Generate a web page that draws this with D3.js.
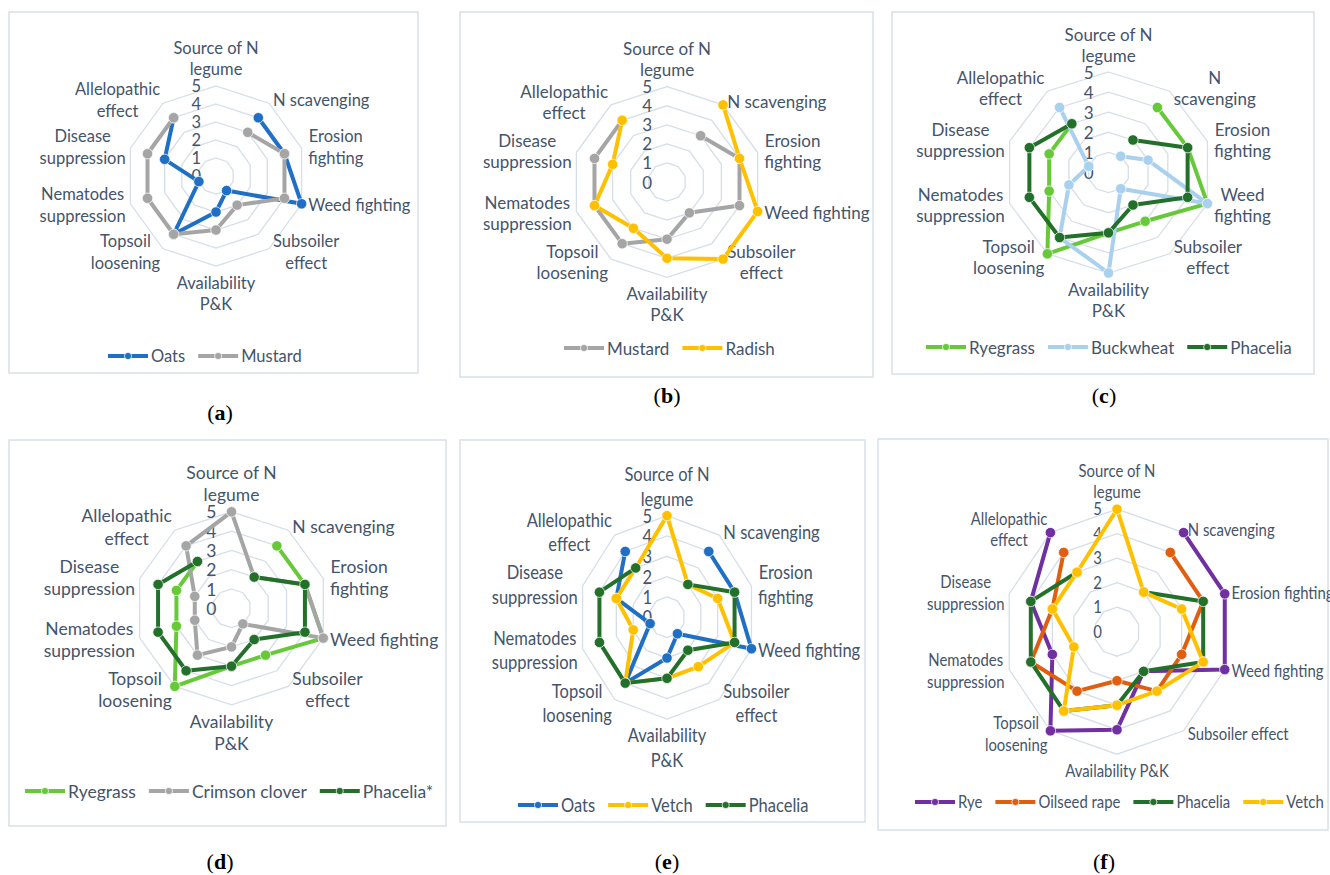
<!DOCTYPE html>
<html>
<head>
<meta charset="utf-8">
<script src="https://cdn.jsdelivr.net/npm/d3@7"></script>
<style>
  body { margin: 0; background: #fff; }
  svg { display: block; font-family: Lato, "Open Sans", sans-serif; }
</style>
</head>
<body>
<svg id="chart" width="1330" height="875"></svg>
<script>
// axis labels, one array of text lines per axis (clockwise from the top)
const axisLabels = [["Source of N", "legume"], ["N scavenging"], ["Erosion", "fighting"], ["Weed fighting"],
    ["Subsoiler", "effect"], ["Availability", "P&K"], ["Topsoil", "loosening"],
    ["Nematodes", "suppression"], ["Disease", "suppression"], ["Allelopathic", "effect"]];
const axisLabelsC = [["Source of N", "legume"], ["N", "scavenging"], ["Erosion", "fighting"], ["Weed", "fighting"],
    ["Subsoiler", "effect"], ["Availability", "P&K"], ["Topsoil", "loosening"],
    ["Nematodes", "suppression"], ["Disease", "suppression"], ["Allelopathic", "effect"]];
const axisLabelsF = [["Source of N", "legume"], ["N scavenging"], ["Erosion fighting"], ["Weed fighting"],
    ["Subsoiler effect"], ["Availability P&K"], ["Topsoil", "loosening"],
    ["Nematodes", "suppression"], ["Disease", "suppression"], ["Allelopathic", "effect"]];

const ticks = [0, 1, 2, 3, 4, 5];

// scores per crop, same axis order (null = no value)
const oats          = [null, 4, 4, 5, 1, 2, 4, 1, 3, 4];
const mustard       = [null, 3, 4, 4, 2, 3, 4, 4, 4, 4];
const radish        = [null, 5, 4, 5, 5, 4, 3, 4, 3, 4];
const ryegrass      = [null, 4, 4, 5, 3, 3, 5, 3, 3, 3];
const buckwheat     = [null, 1, 2, 5, 1, 5, 4, 2, 1, 4];
const phacelia      = [null, 2, 4, 4, 2, 3, 4, 4, 4, 3];
const crimsonClover = [5, 2, 4, 5, 1, 2, 3, 2, 2, 4];
const vetch         = [5, 2, 3, 4, 3, 3, 4, 2, 3, 3];
const rye           = [null, 5, 5, 5, 2, 4, 5, 3, 4, 5];
const oilseedRape   = [null, 4, 4, 3, 3, 2, 3, 4, 3, 4];

const col = {
    oats: "#1f6fc4", mustard: "#a5a5a5", radish: "#ffc000", ryegrass: "#67c93a",
    buckwheat: "#a9d0ec", phacelia: "#23702a", clover: "#a5a5a5", vetch: "#ffc000",
    rye: "#7030a0", rape: "#df5e0f"
};

const panels = [
    { tag: "a", cx: 216, cy: 176, rx: 90, ry: 90, fs: 16.5, sx: 1, sy: 1, lh: 21.3,
      labels: axisLabels, frame: [9, 12, 418, 373], legend: [108, 356], tagPos: [220, 412],
      series: [["Oats", oats, col.oats], ["Mustard", mustard, col.mustard]] },
    { tag: "b", cx: 667, cy: 182, rx: 95.3, ry: 95.3, fs: 17, sx: 1, sy: 1, lh: 21,
      labels: axisLabels, frame: [460, 12, 873, 377], legend: [564, 348], tagPos: [667, 395],
      series: [["Mustard", mustard, col.mustard], ["Radish", radish, col.radish]] },
    { tag: "c", cx: 1108.5, cy: 172.5, rx: 104, ry: 100.5, fs: 17, sx: 1, sy: 1, lh: 21,
      labels: axisLabelsC, frame: [892, 12, 1314, 374], legend: [926, 347], tagPos: [1104, 395],
      series: [["Ryegrass", ryegrass, col.ryegrass], ["Buckwheat", buckwheat, col.buckwheat],
               ["Phacelia", phacelia, col.phacelia]] },
    { tag: "d", cx: 231.5, cy: 608.3, rx: 96.5, ry: 96.5, fs: 17.5, sx: 1, sy: 1, lh: 22.3,
      labels: axisLabels, frame: [9, 440, 446, 826], legend: [25, 791], tagPos: [220, 861],
      series: [["Ryegrass", ryegrass, col.ryegrass], ["Crimson clover", crimsonClover, col.clover],
               ["Phacelia*", phacelia, col.phacelia]] },
    { tag: "e", cx: 667, cy: 617.3, rx: 88.8, ry: 101.7, fs: 16.5, sx: 1, sy: 1.14, lh: 24.3,
      labels: axisLabels, frame: [460, 440, 865, 822], legend: [518, 805], tagPos: [667, 861],
      series: [["Oats", oats, col.oats], ["Vetch", vetch, col.vetch], ["Phacelia", phacelia, col.phacelia]] },
    { tag: "f", cx: 1117, cy: 631.7, rx: 113.3, ry: 122.5, fs: 16, sx: 0.93, sy: 1.02, lh: 21.7,
      labels: axisLabelsF, frame: [878, 439, 1328, 830], legend: [915, 802], tagPos: [1104, 861],
      series: [["Rye", rye, col.rye], ["Oilseed rape", oilseedRape, col.rape],
               ["Phacelia", phacelia, col.phacelia], ["Vetch", vetch, col.vetch]] }
];

const svg = d3.select("#chart");
const nAxes = axisLabels.length;
const angle = d3.scaleLinear().domain([0, nAxes]).range([0, 2 * Math.PI]);
const textCol = "#44546a";

function addText(g, p, x, y, t, anchor) {
    return g.append("text")
        .attr("transform", `translate(${x},${y}) scale(${p.sx},${p.sy})`)
        .attr("text-anchor", anchor)
        .attr("dominant-baseline", "central")
        .attr("font-size", p.fs)
        .attr("fill", textCol)
        .text(t);
}

function drawPanel(p) {
    const g = svg.append("g");

    g.append("rect")
        .attr("x", p.frame[0]).attr("y", p.frame[1])
        .attr("width", p.frame[2] - p.frame[0]).attr("height", p.frame[3] - p.frame[1])
        .attr("fill", "none").attr("stroke", "#d9e0e8").attr("stroke-width", 1.5);

    const rX = d3.scaleLinear().domain([0, 5]).range([0, p.rx]);
    const rY = d3.scaleLinear().domain([0, 5]).range([0, p.ry]);
    const pt = (i, v) => [p.cx + rX(v) * Math.sin(angle(i)), p.cy - rY(v) * Math.cos(angle(i))];

    // grid decagons
    ticks.filter(t => t > 0).forEach(t => {
        g.append("path")
            .attr("d", d3.line()(d3.range(nAxes).map(i => pt(i, t))) + "Z")
            .attr("fill", "none").attr("stroke", "#d6dee8").attr("stroke-width", 1.3);
    });

    // tick labels
    ticks.forEach(t => addText(g, p, p.cx - 15, p.cy - rY(t), String(t), "end"));

    // axis labels
    p.labels.forEach((lines, i) => {
        const th = angle(i), s = Math.sin(th), c = Math.cos(th);
        const [px, py] = pt(i, 5);
        const els = lines.map(l => addText(g, p, 0, 0, l, "middle"));
        const w = d3.max(els, e => e.node().getComputedTextLength()) * p.sx;
        let x, y0;
        if (Math.abs(s) < 0.01) {
            x = px;
            y0 = c > 0 ? py - 17 - (lines.length - 1) * p.lh : py + 16.5;
        } else {
            x = s > 0 ? px + 7 * Math.abs(s) + w / 2 : px - 5 * Math.abs(s) - w / 2;
            y0 = py - 4 * c - (lines.length - 1) * p.lh / 2;
        }
        els.forEach((e, k) => e.attr("transform",
            `translate(${x},${y0 + k * p.lh}) scale(${p.sx},${p.sy})`));
    });

    // series
    p.series.forEach(([name, vals, color]) => {
        const pts = vals.map((v, i) => ({ i: i, v: v })).concat([{ i: 0, v: vals[0] }]);
        g.append("path")
            .datum(pts)
            .attr("d", d3.line()
                .defined(d => d.v != null)
                .x(d => pt(d.i, d.v)[0])
                .y(d => pt(d.i, d.v)[1]))
            .attr("fill", "none")
            .attr("stroke", color)
            .attr("stroke-width", 4)
            .attr("stroke-linejoin", "round");

        g.selectAll(null)
            .data(pts.slice(0, nAxes).filter(d => d.v != null))
            .join("circle")
            .attr("cx", d => pt(d.i, d.v)[0])
            .attr("cy", d => pt(d.i, d.v)[1])
            .attr("r", 5.2)
            .attr("fill", color)
            .attr("stroke", "#ffffff").attr("stroke-opacity", 0.7).attr("stroke-width", 1);
    });

    // legend
    let lx = p.legend[0];
    const ly = p.legend[1];
    p.series.forEach(([name, vals, color]) => {
        g.append("line")
            .attr("x1", lx).attr("x2", lx + 40).attr("y1", ly).attr("y2", ly)
            .attr("stroke", color).attr("stroke-width", 4);
        g.append("circle")
            .attr("cx", lx + 20).attr("cy", ly).attr("r", 3.6)
            .attr("fill", color).attr("stroke", "#fff").attr("stroke-opacity", 0.7);
        const t = addText(g, p, lx + 43, ly, name, "start");
        lx += 43 + t.node().getComputedTextLength() * p.sx + 13;
    });

    // panel tag like (a)
    const tag = g.append("text")
        .attr("x", p.tagPos[0]).attr("y", p.tagPos[1])
        .attr("text-anchor", "middle")
        .attr("dominant-baseline", "central")
        .attr("font-family", "'Liberation Serif', 'DejaVu Serif', serif")
        .attr("font-size", 22)
        .attr("fill", "#000");
    tag.append("tspan").text("(");
    tag.append("tspan").attr("font-weight", "bold").text(p.tag);
    tag.append("tspan").text(")");
}

panels.forEach(drawPanel);
</script>
</body>
</html>
